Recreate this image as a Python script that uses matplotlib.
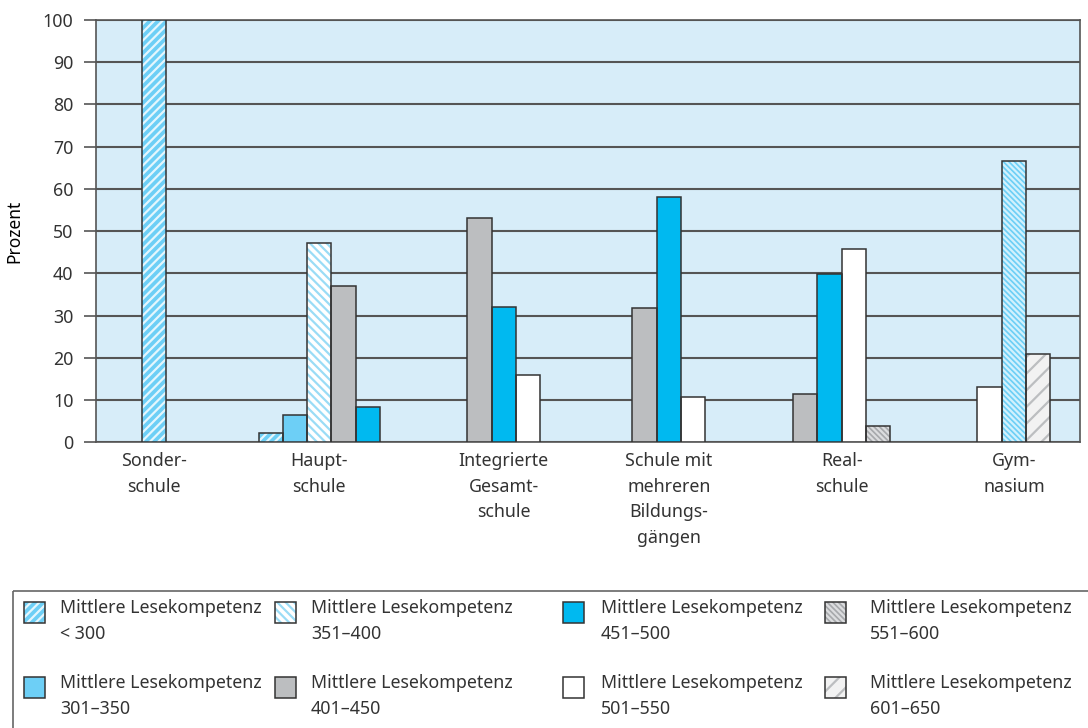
import matplotlib
matplotlib.use("Agg")
import matplotlib.pyplot as plt
import matplotlib.patches as patches

"""
Anteile der Lesekompetenz-Stufen je Schulform (Balkendiagramm).
"""

# Data
schools = ["Sonder-\nschule", "Haupt-\nschule", "Integrierte\nGesamt-\nschule",
           "Schule mit\nmehreren\nBildungs-\ngängen", "Real-\nschule", "Gym-\nnasium"]

levels = ["< 300", "301–350", "351–400", "401–450",
          "451–500", "501–550", "551–600", "601–650"]

# one list per level, one value per school (0 = no bar)
lt_300 = [100, 2.3, 0, 0, 0, 0]
l_301_350 = [0, 6.4, 0, 0, 0, 0]
l_351_400 = [0, 47.1, 0, 0, 0, 0]
l_401_450 = [0, 37.0, 53.0, 31.9, 11.5, 0]
l_451_500 = [0, 8.4, 32.0, 58.2, 39.8, 0]
l_501_550 = [0, 0, 15.9, 10.8, 45.7, 13.2]
l_551_600 = [0, 0, 0, 0, 3.9, 66.7]
l_601_650 = [0, 0, 0, 0, 0, 20.8]
values = [lt_300, l_301_350, l_351_400, l_401_450,
          l_451_500, l_501_550, l_551_600, l_601_650]

# Styles: (face, hatch, hatch colour)
BLUE_LT = '#6dcff6'
BLUE = '#00b9f0'
GREY = '#bcbec0'
styles = [
    (BLUE_LT, '////', '#e4f6fd'),
    (BLUE_LT, None, None),
    ('#ffffff', '\\\\\\\\', '#9adcf6'),
    (GREY, None, None),
    (BLUE, None, None),
    ('#ffffff', None, None),
    ('#a7a9ac', '\\\\\\\\\\\\', '#dcdddf'),
    ('#f2f2f2', '//', '#bcbec0'),
]
# the tall Gymnasium bar is drawn blue in the original
override = {(6, 5): (BLUE_LT, '\\\\\\\\\\\\', '#d2f1fd')}

EDGE = '#333333'
TEXT = '#333333'
GRID = '#555555'

# group centres in bar-width units
centers = [2.40, 9.20, 16.79, 23.58, 30.69, 37.78]

plt.rcParams['font.family'] = ['Noto Sans', 'DejaVu Sans']
plt.rcParams['font.size'] = 12.5
plt.rcParams['text.color'] = TEXT
plt.rcParams['hatch.linewidth'] = 1.6


def draw_bar(ax, x, y, w, h, style):
    face, hatch, hcol = style
    if hatch:
        ax.add_patch(patches.Rectangle((x, y), w, h, facecolor=face,
                                       edgecolor=hcol, hatch=hatch, lw=0, zorder=3))
    else:
        ax.add_patch(patches.Rectangle((x, y), w, h, facecolor=face, lw=0, zorder=3))
    ax.add_patch(patches.Rectangle((x, y), w, h, fill=False, edgecolor=EDGE,
                                   lw=1.1, zorder=4))


fig = plt.figure(figsize=(10.88, 7.28), dpi=100)
ax = fig.add_axes([95.7 / 1088, 1 - 442.3 / 728, 984.3 / 1088, 422.3 / 728])
ax.set_facecolor('#d7edf9')

# Bars: only non-zero levels, packed side by side around the centre
for j, c in enumerate(centers):
    idx = [i for i in range(len(levels)) if values[i][j] > 0]
    n = len(idx)
    for k, i in enumerate(idx):
        x = c + k - n / 2.0
        style = override.get((i, j), styles[i])
        draw_bar(ax, x, 0, 1, values[i][j], style)

ax.set_xlim(0, 40.5)
ax.set_ylim(0, 100)
ax.set_yticks(range(0, 101, 10))
ax.yaxis.grid(True, color=GRID, lw=1.5, zorder=1)
ax.set_axisbelow(True)
ax.tick_params(axis='y', length=9, width=1.2, color=GRID, pad=7,
               labelsize=12.8, labelcolor=TEXT)
ax.set_xticks(centers)
ax.set_xticklabels(schools, linespacing=1.55)
ax.tick_params(axis='x', length=0, pad=7, labelsize=12.8, labelcolor=TEXT)
for s in ax.spines.values():
    s.set_color(GRID)
    s.set_linewidth(1.2)
ax.set_ylabel("Prozent", labelpad=14, fontsize=12.5)

# Legend, drawn on an overlay in pixel coordinates
lg = fig.add_axes([0, 0, 1, 1], zorder=-1)
lg.set_xlim(0, 1088)
lg.set_ylim(728, 0)
lg.axis('off')
lg.add_patch(patches.Rectangle((13, 591), 1100, 200, fill=False,
                               edgecolor='#666666', lw=1.2))
sw_x = [24, 275, 563, 825]
tx_x = [60, 311, 601, 870]
row_y = [602, 677]
for i, lab in enumerate(levels):
    col, row = i // 2, i % 2
    draw_bar(lg, sw_x[col], row_y[row], 21, 21, styles[i])
    lg.text(tx_x[col], row_y[row] - 3, "Mittlere Lesekompetenz\n" + lab,
            va='top', ha='left', linespacing=1.55, fontsize=12.8)

fig.savefig("out.png", dpi=100)
